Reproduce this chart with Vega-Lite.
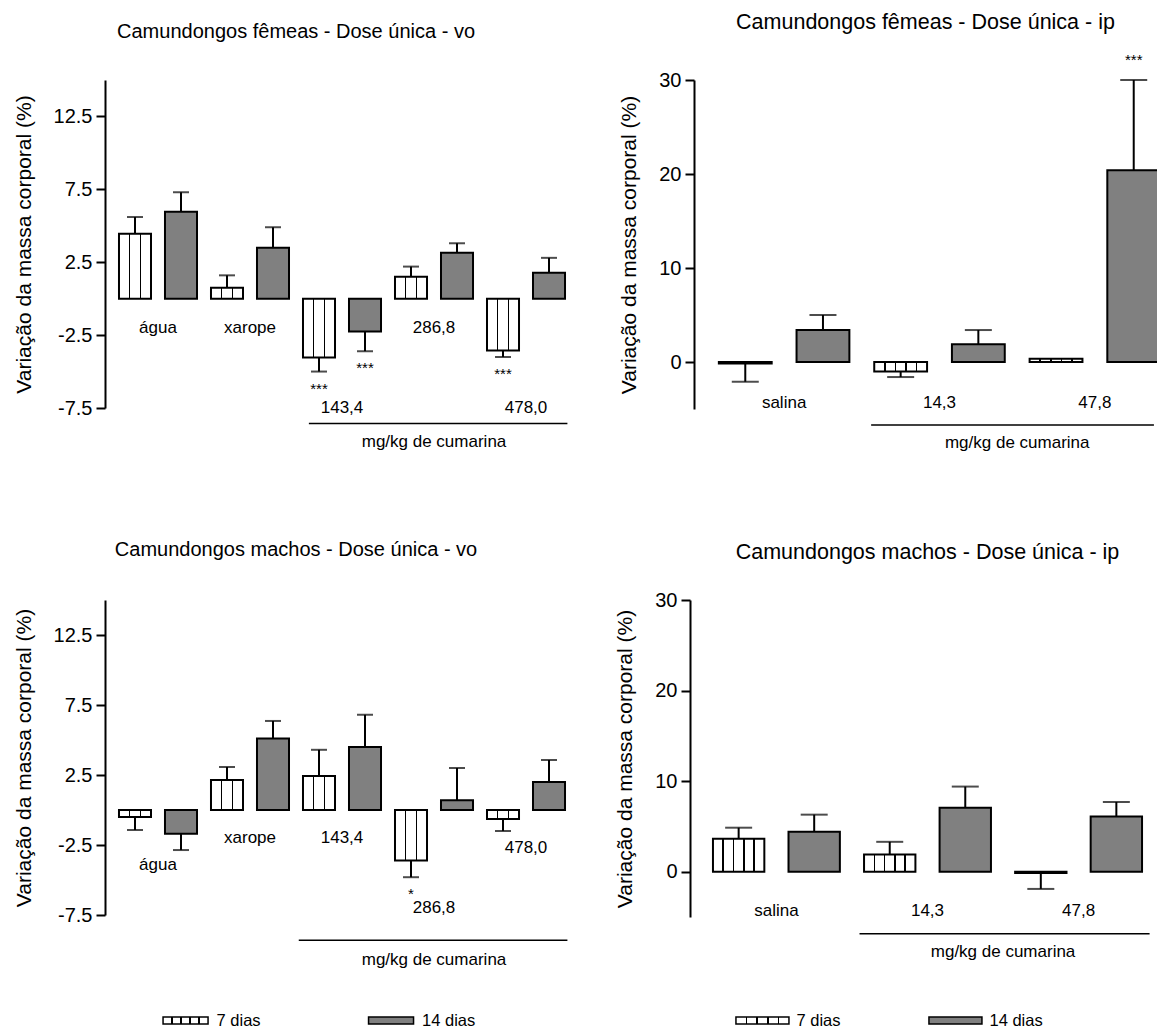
{
  "$schema": "https://vega.github.io/schema/vega-lite/v6.json",
  "padding": {"left": 13, "top": 11, "right": 0, "bottom": 0},
  "background": "white",
  "config": {
    "font": "Liberation Sans",
    "view": {"stroke": null},
    "axis": {"domainColor": "black", "domainWidth": 2, "tickColor": "black", "tickWidth": 2, "tickSize": 9, "labelPadding": 4, "labelFontSize": 20, "labelColor": "black", "labelFlush": false, "labelOverlap": false, "titleFontSize": 21, "titleFontWeight": "normal", "titleColor": "black", "titlePadding": 19, "grid": false},
    "title": {"fontSize": 20, "fontWeight": "normal", "color": "black", "anchor": "middle", "frame": "bounds"},
    "text": {"color": "black", "baseline": "middle"}
  },
  "datasets": {
    "fvo": [
      {"grupo": "água", "dias": "7 dias", "media": 4.45, "erro": 5.6},
      {"grupo": "água", "dias": "14 dias", "media": 5.96, "erro": 7.3},
      {"grupo": "xarope", "dias": "7 dias", "media": 0.75, "erro": 1.6},
      {"grupo": "xarope", "dias": "14 dias", "media": 3.5, "erro": 4.9},
      {"grupo": "143,4", "dias": "7 dias", "media": -4.04, "erro": -5.0, "sig": "***"},
      {"grupo": "143,4", "dias": "14 dias", "media": -2.26, "erro": -3.6, "sig": "***"},
      {"grupo": "286,8", "dias": "7 dias", "media": 1.5, "erro": 2.2},
      {"grupo": "286,8", "dias": "14 dias", "media": 3.15, "erro": 3.8},
      {"grupo": "478,0", "dias": "7 dias", "media": -3.56, "erro": -4.0, "sig": "***"},
      {"grupo": "478,0", "dias": "14 dias", "media": 1.78, "erro": 2.8}
    ],
    "fip": [
      {"grupo": "salina", "dias": "7 dias", "media": -0.15, "erro": -2.1},
      {"grupo": "salina", "dias": "14 dias", "media": 3.4, "erro": 5.0},
      {"grupo": "14,3", "dias": "7 dias", "media": -1.0, "erro": -1.6},
      {"grupo": "14,3", "dias": "14 dias", "media": 1.9, "erro": 3.4},
      {"grupo": "47,8", "dias": "7 dias", "media": 0.35, "erro": null},
      {"grupo": "47,8", "dias": "14 dias", "media": 20.4, "erro": 30.0, "sig": "***"}
    ],
    "mvo": [
      {"grupo": "água", "dias": "7 dias", "media": -0.5, "erro": -1.43},
      {"grupo": "água", "dias": "14 dias", "media": -1.7, "erro": -2.86},
      {"grupo": "xarope", "dias": "7 dias", "media": 2.14, "erro": 3.07},
      {"grupo": "xarope", "dias": "14 dias", "media": 5.1, "erro": 6.36},
      {"grupo": "143,4", "dias": "7 dias", "media": 2.43, "erro": 4.3},
      {"grupo": "143,4", "dias": "14 dias", "media": 4.5, "erro": 6.8},
      {"grupo": "286,8", "dias": "7 dias", "media": -3.6, "erro": -4.8, "sig": "*"},
      {"grupo": "286,8", "dias": "14 dias", "media": 0.7, "erro": 3.0},
      {"grupo": "478,0", "dias": "7 dias", "media": -0.64, "erro": -1.5},
      {"grupo": "478,0", "dias": "14 dias", "media": 2.0, "erro": 3.57}
    ],
    "mip": [
      {"grupo": "salina", "dias": "7 dias", "media": 3.65, "erro": 4.86},
      {"grupo": "salina", "dias": "14 dias", "media": 4.4, "erro": 6.3},
      {"grupo": "14,3", "dias": "7 dias", "media": 1.9, "erro": 3.3},
      {"grupo": "14,3", "dias": "14 dias", "media": 7.07, "erro": 9.4},
      {"grupo": "47,8", "dias": "7 dias", "media": -0.15, "erro": -1.9},
      {"grupo": "47,8", "dias": "14 dias", "media": 6.1, "erro": 7.7}
    ],
    "leg": [{"dias": "7 dias"}, {"dias": "14 dias"}]
  },
  "spacing": 89,
  "resolve": {"scale": {"xOffset": "independent"}},
  "vconcat": [
    {
      "bounds": "flush",
      "spacing": 115,
      "resolve": {"scale": {"xOffset": "independent"}},
      "hconcat": [
        {
          "width": 474, "height": 328,
          "title": {"text": "Camundongos fêmeas - Dose única - vo", "offset": 38},
          "data": {"name": "fvo"},
          "encoding": {"x": {"field": "grupo", "type": "nominal", "sort": ["água", "xarope", "143,4", "286,8", "478,0"], "scale": {"paddingInner": 0, "paddingOuter": 0.076}, "axis": null}},
          "layer": [
            {"transform": [{"filter": "isValid(datum.erro)"}], "mark": {"type": "rule", "strokeWidth": 2, "color": "black"},
             "encoding": {"xOffset": {"field": "dias", "type": "nominal", "sort": ["7 dias", "14 dias"], "scale": {"paddingInner": 0.304, "paddingOuter": 0.152}},
               "y": {"field": "media", "type": "quantitative", "scale": {"domain": [-7.5, 15], "nice": false, "zero": false}, "axis": {"title": "Variação da massa corporal (%)", "values": [-7.5, -2.5, 2.5, 7.5, 12.5], "labelExpr": "'' + datum.value"}},
               "y2": {"field": "erro"}}},
            {"transform": [{"filter": "isValid(datum.erro)"}], "mark": {"type": "tick", "size": 16, "thickness": 2, "color": "black"},
             "encoding": {"xOffset": {"field": "dias", "type": "nominal", "sort": ["7 dias", "14 dias"]}, "y": {"field": "erro", "type": "quantitative"}}},
            {"transform": [{"filter": "datum.dias == '7 dias'"}],
             "mark": {"type": "bar", "stroke": "black", "strokeWidth": 2, "fill": {"gradient": "linear", "x1": 0, "y1": 0, "x2": 1, "y2": 0, "stops": [{"offset": 0, "color": "#ffffff"}, {"offset": 0.308, "color": "#ffffff"}, {"offset": 0.308, "color": "#000000"}, {"offset": 0.358, "color": "#000000"}, {"offset": 0.358, "color": "#ffffff"}, {"offset": 0.642, "color": "#ffffff"}, {"offset": 0.642, "color": "#000000"}, {"offset": 0.692, "color": "#000000"}, {"offset": 0.692, "color": "#ffffff"}, {"offset": 1, "color": "#ffffff"}]}},
             "encoding": {"xOffset": {"field": "dias", "type": "nominal", "sort": ["7 dias", "14 dias"]}, "y": {"field": "media", "type": "quantitative"}}},
            {"transform": [{"filter": "datum.dias == '14 dias'"}],
             "mark": {"type": "bar", "stroke": "black", "strokeWidth": 2, "fill": "#808080"},
             "encoding": {"xOffset": {"field": "dias", "type": "nominal", "sort": ["7 dias", "14 dias"]}, "y": {"field": "media", "type": "quantitative"}}},
            {"transform": [{"filter": "datum.sig && datum.erro < 0"}], "mark": {"type": "text", "fontSize": 15, "dy": 17},
             "encoding": {"xOffset": {"field": "dias", "type": "nominal", "sort": ["7 dias", "14 dias"]}, "y": {"field": "erro", "type": "quantitative"}, "text": {"field": "sig"}}},
            {"transform": [{"filter": "datum.dias == '7 dias' && indexof(['água', 'xarope', '286,8'], datum.grupo) >= 0"}], "mark": {"type": "text", "fontSize": 17},
             "encoding": {"y": {"datum": -2.0, "type": "quantitative"}, "text": {"field": "grupo"}}},
            {"transform": [{"filter": "datum.dias == '7 dias' && indexof(['143,4', '478,0'], datum.grupo) >= 0"}], "mark": {"type": "text", "fontSize": 17},
             "encoding": {"y": {"datum": -7.5, "type": "quantitative"}, "text": {"field": "grupo"}}},
            {"data": {"values": [{}]}, "mark": {"type": "rule", "strokeWidth": 1.5, "color": "black"},
             "encoding": {"x": {"datum": "143,4", "bandPosition": 0.14}, "x2": {"datum": "478,0", "bandPosition": 0.95}, "y": {"datum": -8.56, "type": "quantitative"}}},
            {"data": {"values": [{}]}, "mark": {"type": "text", "fontSize": 17},
             "encoding": {"x": {"datum": "286,8"}, "y": {"datum": -9.86, "type": "quantitative"}, "text": {"value": "mg/kg de cumarina"}}}
          ]
        },
        {
          "width": 463, "height": 329,
          "title": {"text": "Camundongos fêmeas - Dose única - ip", "offset": 20, "frame": "group", "fontSize": 21.5},
          "data": {"name": "fip"},
          "encoding": {"x": {"field": "grupo", "type": "nominal", "sort": ["salina", "14,3", "47,8"], "scale": {"paddingInner": 0, "paddingOuter": 0.08, "range": [0, 491]}, "axis": null}},
          "layer": [
            {"transform": [{"filter": "isValid(datum.erro)"}], "mark": {"type": "rule", "strokeWidth": 2, "color": "black"},
             "encoding": {"xOffset": {"field": "dias", "type": "nominal", "sort": ["7 dias", "14 dias"], "scale": {"paddingInner": 0.32, "paddingOuter": 0.16}},
               "y": {"field": "media", "type": "quantitative", "scale": {"domain": [-5, 30], "nice": false, "zero": false}, "axis": {"title": "Variação da massa corporal (%)", "values": [0, 10, 20, 30], "labelExpr": "'' + datum.value"}},
               "y2": {"field": "erro"}}},
            {"transform": [{"filter": "isValid(datum.erro)"}], "mark": {"type": "tick", "size": 27, "thickness": 2, "color": "black"},
             "encoding": {"xOffset": {"field": "dias", "type": "nominal", "sort": ["7 dias", "14 dias"]}, "y": {"field": "erro", "type": "quantitative"}}},
            {"transform": [{"filter": "datum.dias == '7 dias'"}],
             "mark": {"type": "bar", "clip": true, "stroke": "black", "strokeWidth": 2, "fill": {"gradient": "linear", "x1": 0, "y1": 0, "x2": 1, "y2": 0, "stops": [{"offset": 0, "color": "#ffffff"}, {"offset": 0.185, "color": "#ffffff"}, {"offset": 0.185, "color": "#000000"}, {"offset": 0.215, "color": "#000000"}, {"offset": 0.215, "color": "#ffffff"}, {"offset": 0.385, "color": "#ffffff"}, {"offset": 0.385, "color": "#000000"}, {"offset": 0.415, "color": "#000000"}, {"offset": 0.415, "color": "#ffffff"}, {"offset": 0.585, "color": "#ffffff"}, {"offset": 0.585, "color": "#000000"}, {"offset": 0.615, "color": "#000000"}, {"offset": 0.615, "color": "#ffffff"}, {"offset": 0.785, "color": "#ffffff"}, {"offset": 0.785, "color": "#000000"}, {"offset": 0.815, "color": "#000000"}, {"offset": 0.815, "color": "#ffffff"}, {"offset": 1, "color": "#ffffff"}]}},
             "encoding": {"xOffset": {"field": "dias", "type": "nominal", "sort": ["7 dias", "14 dias"]}, "y": {"field": "media", "type": "quantitative"}}},
            {"transform": [{"filter": "datum.dias == '14 dias'"}],
             "mark": {"type": "bar", "clip": true, "stroke": "black", "strokeWidth": 2, "fill": "#808080"},
             "encoding": {"xOffset": {"field": "dias", "type": "nominal", "sort": ["7 dias", "14 dias"]}, "y": {"field": "media", "type": "quantitative"}}},
            {"transform": [{"filter": "datum.sig && datum.erro > 0"}], "mark": {"type": "text", "fontSize": 15, "dy": -20},
             "encoding": {"xOffset": {"field": "dias", "type": "nominal", "sort": ["7 dias", "14 dias"]}, "y": {"field": "erro", "type": "quantitative"}, "text": {"field": "sig"}}},
            {"transform": [{"filter": "datum.dias == '7 dias'"}], "mark": {"type": "text", "fontSize": 17},
             "encoding": {"y": {"datum": -4.4, "type": "quantitative"}, "text": {"field": "grupo"}}},
            {"data": {"values": [{}]}, "mark": {"type": "rule", "strokeWidth": 1.5, "color": "black"},
             "encoding": {"x": {"datum": "14,3", "bandPosition": 0.06}, "x2": {"datum": "47,8", "bandPosition": 0.88}, "y": {"datum": -6.7, "type": "quantitative"}}},
            {"data": {"values": [{}]}, "mark": {"type": "text", "fontSize": 17},
             "encoding": {"x": {"datum": "47,8", "bandPosition": 0}, "y": {"datum": -8.6, "type": "quantitative"}, "text": {"value": "mg/kg de cumarina"}}}
          ]
        }
      ]
    },
    {
      "spacing": 44,
      "resolve": {"scale": {"xOffset": "independent"}},
      "vconcat": [
        {
          "bounds": "flush",
          "spacing": 111,
          "resolve": {"scale": {"xOffset": "independent"}},
          "hconcat": [
            {
              "width": 474, "height": 315,
              "title": {"text": "Camundongos machos - Dose única - vo", "offset": 40},
              "data": {"name": "mvo"},
              "encoding": {"x": {"field": "grupo", "type": "nominal", "sort": ["água", "xarope", "143,4", "286,8", "478,0"], "scale": {"paddingInner": 0, "paddingOuter": 0.076}, "axis": null}},
              "layer": [
                {"transform": [{"filter": "isValid(datum.erro)"}], "mark": {"type": "rule", "strokeWidth": 2, "color": "black"},
                 "encoding": {"xOffset": {"field": "dias", "type": "nominal", "sort": ["7 dias", "14 dias"], "scale": {"paddingInner": 0.304, "paddingOuter": 0.152}},
                   "y": {"field": "media", "type": "quantitative", "scale": {"domain": [-7.5, 15], "nice": false, "zero": false}, "axis": {"title": "Variação da massa corporal (%)", "values": [-7.5, -2.5, 2.5, 7.5, 12.5], "labelExpr": "'' + datum.value"}},
                   "y2": {"field": "erro"}}},
                {"transform": [{"filter": "isValid(datum.erro)"}], "mark": {"type": "tick", "size": 16, "thickness": 2, "color": "black"},
                 "encoding": {"xOffset": {"field": "dias", "type": "nominal", "sort": ["7 dias", "14 dias"]}, "y": {"field": "erro", "type": "quantitative"}}},
                {"transform": [{"filter": "datum.dias == '7 dias'"}],
                 "mark": {"type": "bar", "stroke": "black", "strokeWidth": 2, "fill": {"gradient": "linear", "x1": 0, "y1": 0, "x2": 1, "y2": 0, "stops": [{"offset": 0, "color": "#ffffff"}, {"offset": 0.308, "color": "#ffffff"}, {"offset": 0.308, "color": "#000000"}, {"offset": 0.358, "color": "#000000"}, {"offset": 0.358, "color": "#ffffff"}, {"offset": 0.642, "color": "#ffffff"}, {"offset": 0.642, "color": "#000000"}, {"offset": 0.692, "color": "#000000"}, {"offset": 0.692, "color": "#ffffff"}, {"offset": 1, "color": "#ffffff"}]}},
                 "encoding": {"xOffset": {"field": "dias", "type": "nominal", "sort": ["7 dias", "14 dias"]}, "y": {"field": "media", "type": "quantitative"}}},
                {"transform": [{"filter": "datum.dias == '14 dias'"}],
                 "mark": {"type": "bar", "stroke": "black", "strokeWidth": 2, "fill": "#808080"},
                 "encoding": {"xOffset": {"field": "dias", "type": "nominal", "sort": ["7 dias", "14 dias"]}, "y": {"field": "media", "type": "quantitative"}}},
                {"transform": [{"filter": "datum.sig && datum.erro < 0"}], "mark": {"type": "text", "fontSize": 15, "dy": 17},
                 "encoding": {"xOffset": {"field": "dias", "type": "nominal", "sort": ["7 dias", "14 dias"]}, "y": {"field": "erro", "type": "quantitative"}, "text": {"field": "sig"}}},
                {"transform": [{"filter": "datum.dias == '7 dias' && datum.grupo == 'água'"}], "mark": {"type": "text", "fontSize": 17},
                 "encoding": {"y": {"datum": -3.93, "type": "quantitative"}, "text": {"field": "grupo"}}},
                {"transform": [{"filter": "datum.dias == '7 dias' && indexof(['xarope', '143,4'], datum.grupo) >= 0"}], "mark": {"type": "text", "fontSize": 17},
                 "encoding": {"y": {"datum": -2.0, "type": "quantitative"}, "text": {"field": "grupo"}}},
                {"transform": [{"filter": "datum.dias == '7 dias' && datum.grupo == '286,8'"}], "mark": {"type": "text", "fontSize": 17},
                 "encoding": {"y": {"datum": -7.0, "type": "quantitative"}, "text": {"field": "grupo"}}},
                {"transform": [{"filter": "datum.dias == '7 dias' && datum.grupo == '478,0'"}], "mark": {"type": "text", "fontSize": 17},
                 "encoding": {"y": {"datum": -2.7, "type": "quantitative"}, "text": {"field": "grupo"}}},
                {"data": {"values": [{}]}, "mark": {"type": "rule", "strokeWidth": 1.5, "color": "black"},
                 "encoding": {"x": {"datum": "143,4", "bandPosition": 0.03}, "x2": {"datum": "478,0", "bandPosition": 0.95}, "y": {"datum": -9.3, "type": "quantitative"}}},
                {"data": {"values": [{}]}, "mark": {"type": "text", "fontSize": 17},
                 "encoding": {"x": {"datum": "286,8"}, "y": {"datum": -10.7, "type": "quantitative"}, "text": {"value": "mg/kg de cumarina"}}}
              ]
            },
            {
              "width": 475, "height": 317,
              "title": {"text": "Camundongos machos - Dose única - ip", "offset": 27, "frame": "group", "fontSize": 21.5},
              "data": {"name": "mip"},
              "encoding": {"x": {"field": "grupo", "type": "nominal", "sort": ["salina", "14,3", "47,8"], "scale": {"paddingInner": 0, "paddingOuter": 0.072}, "axis": null}},
              "layer": [
                {"transform": [{"filter": "isValid(datum.erro)"}], "mark": {"type": "rule", "strokeWidth": 2, "color": "black"},
                 "encoding": {"xOffset": {"field": "dias", "type": "nominal", "sort": ["7 dias", "14 dias"], "scale": {"paddingInner": 0.32, "paddingOuter": 0.16}},
                   "y": {"field": "media", "type": "quantitative", "scale": {"domain": [-5, 30], "nice": false, "zero": false}, "axis": {"title": "Variação da massa corporal (%)", "values": [0, 10, 20, 30], "labelExpr": "'' + datum.value"}},
                   "y2": {"field": "erro"}}},
                {"transform": [{"filter": "isValid(datum.erro)"}], "mark": {"type": "tick", "size": 27, "thickness": 2, "color": "black"},
                 "encoding": {"xOffset": {"field": "dias", "type": "nominal", "sort": ["7 dias", "14 dias"]}, "y": {"field": "erro", "type": "quantitative"}}},
                {"transform": [{"filter": "datum.dias == '7 dias'"}],
                 "mark": {"type": "bar", "stroke": "black", "strokeWidth": 2, "fill": {"gradient": "linear", "x1": 0, "y1": 0, "x2": 1, "y2": 0, "stops": [{"offset": 0, "color": "#ffffff"}, {"offset": 0.185, "color": "#ffffff"}, {"offset": 0.185, "color": "#000000"}, {"offset": 0.215, "color": "#000000"}, {"offset": 0.215, "color": "#ffffff"}, {"offset": 0.385, "color": "#ffffff"}, {"offset": 0.385, "color": "#000000"}, {"offset": 0.415, "color": "#000000"}, {"offset": 0.415, "color": "#ffffff"}, {"offset": 0.585, "color": "#ffffff"}, {"offset": 0.585, "color": "#000000"}, {"offset": 0.615, "color": "#000000"}, {"offset": 0.615, "color": "#ffffff"}, {"offset": 0.785, "color": "#ffffff"}, {"offset": 0.785, "color": "#000000"}, {"offset": 0.815, "color": "#000000"}, {"offset": 0.815, "color": "#ffffff"}, {"offset": 1, "color": "#ffffff"}]}},
                 "encoding": {"xOffset": {"field": "dias", "type": "nominal", "sort": ["7 dias", "14 dias"]}, "y": {"field": "media", "type": "quantitative"}}},
                {"transform": [{"filter": "datum.dias == '14 dias'"}],
                 "mark": {"type": "bar", "stroke": "black", "strokeWidth": 2, "fill": "#808080"},
                 "encoding": {"xOffset": {"field": "dias", "type": "nominal", "sort": ["7 dias", "14 dias"]}, "y": {"field": "media", "type": "quantitative"}}},
                {"transform": [{"filter": "datum.dias == '7 dias'"}], "mark": {"type": "text", "fontSize": 17},
                 "encoding": {"y": {"datum": -4.3, "type": "quantitative"}, "text": {"field": "grupo"}}},
                {"data": {"values": [{}]}, "mark": {"type": "rule", "strokeWidth": 1.5, "color": "black"},
                 "encoding": {"x": {"datum": "14,3", "bandPosition": 0.05}, "x2": {"datum": "47,8", "bandPosition": 0.97}, "y": {"datum": -6.85, "type": "quantitative"}}},
                {"data": {"values": [{}]}, "mark": {"type": "text", "fontSize": 17},
                 "encoding": {"x": {"datum": "47,8", "bandPosition": 0}, "y": {"datum": -8.84, "type": "quantitative"}, "text": {"value": "mg/kg de cumarina"}}}
              ]
            }
          ]
        },
        {
          "bounds": "flush",
          "spacing": 222.9,
          "hconcat": [
            {
              "width": 366.6, "height": 7,
              "data": {"name": "leg"},
              "encoding": {"x": {"field": "dias", "type": "nominal", "sort": ["7 dias", "14 dias"], "scale": {"type": "point", "padding": 0.392}, "axis": null}},
              "layer": [
                {"transform": [{"filter": "datum.dias == '7 dias'"}],
                 "mark": {"type": "bar", "width": 45, "stroke": "black", "strokeWidth": 1.5, "fill": {"gradient": "linear", "x1": 0, "y1": 0, "x2": 1, "y2": 0, "stops": [{"offset": 0, "color": "#ffffff"}, {"offset": 0.183, "color": "#ffffff"}, {"offset": 0.183, "color": "#000000"}, {"offset": 0.217, "color": "#000000"}, {"offset": 0.217, "color": "#ffffff"}, {"offset": 0.383, "color": "#ffffff"}, {"offset": 0.383, "color": "#000000"}, {"offset": 0.417, "color": "#000000"}, {"offset": 0.417, "color": "#ffffff"}, {"offset": 0.583, "color": "#ffffff"}, {"offset": 0.583, "color": "#000000"}, {"offset": 0.617, "color": "#000000"}, {"offset": 0.617, "color": "#ffffff"}, {"offset": 0.783, "color": "#ffffff"}, {"offset": 0.783, "color": "#000000"}, {"offset": 0.817, "color": "#000000"}, {"offset": 0.817, "color": "#ffffff"}, {"offset": 1, "color": "#ffffff"}]}}},
                {"transform": [{"filter": "datum.dias == '14 dias'"}],
                 "mark": {"type": "bar", "width": 45, "stroke": "black", "strokeWidth": 1.5, "fill": "#808080"}},
                {"mark": {"type": "text", "align": "left", "dx": 31, "fontSize": 16.5}, "encoding": {"text": {"field": "dias"}}}
              ]
            },
            {
              "width": 328.1, "height": 7,
              "data": {"name": "leg"},
              "encoding": {"x": {"field": "dias", "type": "nominal", "sort": ["7 dias", "14 dias"], "scale": {"type": "point", "padding": 0.35}, "axis": null}},
              "layer": [
                {"transform": [{"filter": "datum.dias == '7 dias'"}],
                 "mark": {"type": "bar", "width": 53, "stroke": "black", "strokeWidth": 1.5, "fill": {"gradient": "linear", "x1": 0, "y1": 0, "x2": 1, "y2": 0, "stops": [{"offset": 0, "color": "#ffffff"}, {"offset": 0.185, "color": "#ffffff"}, {"offset": 0.185, "color": "#000000"}, {"offset": 0.215, "color": "#000000"}, {"offset": 0.215, "color": "#ffffff"}, {"offset": 0.385, "color": "#ffffff"}, {"offset": 0.385, "color": "#000000"}, {"offset": 0.415, "color": "#000000"}, {"offset": 0.415, "color": "#ffffff"}, {"offset": 0.585, "color": "#ffffff"}, {"offset": 0.585, "color": "#000000"}, {"offset": 0.615, "color": "#000000"}, {"offset": 0.615, "color": "#ffffff"}, {"offset": 0.785, "color": "#ffffff"}, {"offset": 0.785, "color": "#000000"}, {"offset": 0.815, "color": "#000000"}, {"offset": 0.815, "color": "#ffffff"}, {"offset": 1, "color": "#ffffff"}]}}},
                {"transform": [{"filter": "datum.dias == '14 dias'"}],
                 "mark": {"type": "bar", "width": 53, "stroke": "black", "strokeWidth": 1.5, "fill": "#808080"}},
                {"mark": {"type": "text", "align": "left", "dx": 34, "fontSize": 16.5}, "encoding": {"text": {"field": "dias"}}}
              ]
            }
          ]
        }
      ]
    }
  ]
}
